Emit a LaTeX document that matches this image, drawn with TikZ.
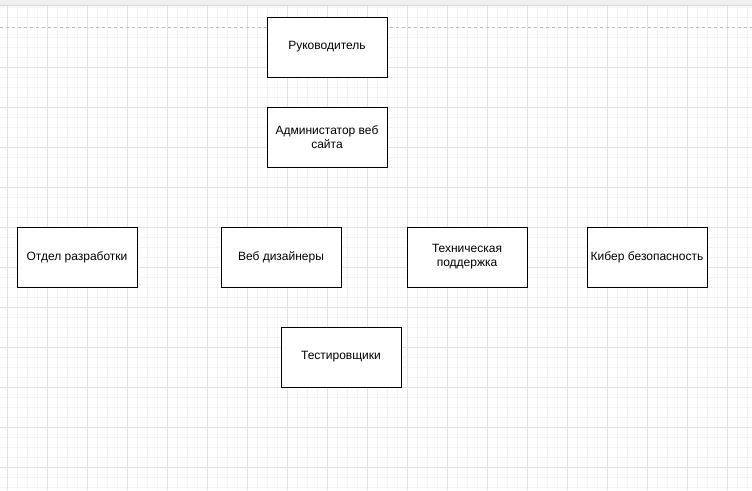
\documentclass[tikz,border=0pt]{standalone}
\usepackage{fontspec}
\setmainfont{Liberation Sans}
\definecolor{gridminor}{HTML}{F4F4F4}
\definecolor{gridmajor}{HTML}{E2E2E2}
\definecolor{topbar}{HTML}{F0F0F2}
\definecolor{topline}{HTML}{D6D6D6}
\definecolor{pageline}{HTML}{BDBDBD}
\tikzset{
  unit/.style={draw=black,line width=0.75pt,fill=white,minimum width=90pt,
    minimum height=45pt,align=center,font=\fontsize{9pt}{10.5pt}\selectfont,inner sep=2pt},
}
\begin{document}
\begin{tikzpicture}[x=0.75pt,y=-0.75pt]
\useasboundingbox (0,0) rectangle (752,490);
% grid
\foreach \x in {7,17,...,747} \draw[gridminor,line width=0.75pt] (\x,5) -- (\x,490);
\foreach \y in {7,17,...,487} \draw[gridminor,line width=0.75pt] (0,\y) -- (752,\y);
\foreach \x in {7,47,...,727} \draw[gridmajor,line width=0.75pt] (\x,5) -- (\x,490);
\foreach \y in {67,107,...,467} \draw[gridmajor,line width=0.75pt] (0,\y) -- (752,\y);
\fill[topbar] (0,0) rectangle (752,5);
\draw[topline,line width=0.75pt] (0,5) -- (752,5);
\draw[pageline,line width=0.75pt,dash pattern=on 2.25pt off 2.25pt] (0,27) -- (752,27);
% boxes
\node[unit] (head) at (327,47) {Руководитель};
\node[unit] (admin) at (327,137) {Администатор веб\\сайта};
\node[unit] (dev) at (77,257) {Отдел разработки};
\node[unit] (design) at (281,257) {Веб дизайнеры};
\node[unit] (support) at (467,257) {Техническая\\поддержка};
\node[unit] (security) at (647,257) {Кибер безопасность};
\node[unit] (testers) at (341,357) {Тестировщики};
\end{tikzpicture}
\end{document}
